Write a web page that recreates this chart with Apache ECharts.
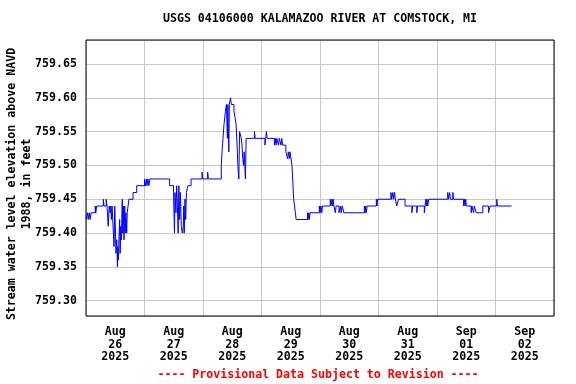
<!DOCTYPE html>
<html><head><meta charset="utf-8">
<script src="https://cdn.jsdelivr.net/npm/echarts@6/dist/echarts.min.js"></script>
<style>html,body{margin:0;padding:0;background:#fff}#c{width:576px;height:384px}</style>
</head><body><div id="c"></div>
<script>
// Hours since 2025-08-26 00:00 at which the reading changes, and the reading (ft)
const hoursFromStart = [
0,0.6,0.9,1.3,1.7,2.1,3.8,4.0,4.4,7.1,7.4,8.3,8.6,8.8,9.1,9.5,9.9,10.2,10.4,10.7,
11.5,11.8,12.1,12.3,12.6,12.9,13.1,13.3,13.5,13.8,14.0,14.3,14.5,14.8,14.9,15.1,15.3,15.6,15.9,16.1,
16.4,16.7,16.9,17.6,19.3,20.8,24.0,24.4,24.8,25.0,25.4,25.8,26.2,34.3,35.9,36.3,36.5,36.9,37.2,37.5,
37.8,38.1,38.4,38.7,39.1,39.5,39.9,40.1,40.3,40.6,40.9,41.2,41.8,43.1,47.6,47.9,49.9,50.2,55.5,55.8,
56.2,56.6,57.2,57.6,58.0,58.2,58.6,58.8,59.3,59.6,60.7,61.2,61.6,62.1,62.3,62.7,63.0,63.7,64.0,64.3,
64.6,64.9,65.4,65.7,69.1,69.4,73.4,73.7,74.0,74.3,77.3,77.6,78.0,78.3,79.0,79.3,80.0,80.3,80.7,82.0,
82.7,83.0,83.4,83.7,84.5,85.2,85.9,86.2,90.9,91.1,91.4,91.6,91.9,95.7,96.0,96.4,96.7,97.0,100.2,100.5,
100.9,101.2,101.4,101.7,102.3,102.6,103.8,104.4,104.7,105.1,105.8,114.2,114.5,114.7,115.0,115.3,119.1,119.4,119.6,125.1,
125.4,125.9,126.2,126.6,126.9,127.5,128.2,130.9,133.7,134.0,135.7,136.0,138.8,139.1,139.4,139.7,139.9,140.2,140.6,148.4,
148.7,149.2,149.5,150.5,150.8,154.9,155.2,155.5,155.8,156.0,158.0,158.3,159.0,159.3,160.1,162.8,165.1,165.8,168.5,168.8,
174.6
];
const levelFt = [
759.42,759.43,759.42,759.43,759.42,759.43,759.44,759.43,759.44,759.45,759.44,759.45,759.44,759.43,759.41,759.44,759.43,759.44,759.42,759.44,
759.38,759.44,759.40,759.37,759.39,759.35,759.38,759.36,759.39,759.42,759.37,759.41,759.39,759.44,759.45,759.40,759.44,759.39,759.44,759.40,
759.43,759.40,759.43,759.45,759.46,759.47,759.48,759.47,759.48,759.47,759.48,759.47,759.48,759.47,759.46,759.40,759.46,759.43,759.47,759.44,
759.40,759.47,759.42,759.46,759.41,759.40,759.41,759.44,759.40,759.45,759.42,759.46,759.47,759.48,759.49,759.48,759.49,759.48,759.50,759.52,
759.54,759.56,759.58,759.59,759.54,759.59,759.52,759.59,759.60,759.59,759.58,759.57,759.56,759.52,759.50,759.48,759.55,759.54,759.53,759.51,
759.50,759.52,759.48,759.54,759.55,759.54,759.53,759.54,759.55,759.54,759.53,759.54,759.53,759.54,759.53,759.54,759.53,759.54,759.53,759.52,
759.51,759.52,759.51,759.52,759.50,759.45,759.43,759.42,759.43,759.42,759.43,759.42,759.43,759.44,759.43,759.44,759.43,759.44,759.45,759.44,
759.45,759.44,759.45,759.44,759.43,759.44,759.43,759.44,759.43,759.44,759.43,759.44,759.43,759.44,759.43,759.44,759.45,759.44,759.45,759.46,
759.45,759.46,759.45,759.46,759.45,759.44,759.45,759.44,759.43,759.44,759.43,759.44,759.43,759.44,759.45,759.44,759.45,759.44,759.45,759.46,
759.45,759.46,759.45,759.46,759.45,759.44,759.45,759.44,759.45,759.44,759.43,759.44,759.43,759.44,759.43,759.44,759.43,759.44,759.45,759.44,
759.44
];
const dayMonths = ['Aug','Aug','Aug','Aug','Aug','Aug','Sep','Sep'];
const dayNumbers = ['26','27','28','29','30','31','01','02'];
const dayYears = ['2025','2025','2025','2025','2025','2025','2025','2025'];
const titleText = 'USGS 04106000 KALAMAZOO RIVER AT COMSTOCK, MI';
const yAxisTitle = 'Stream water level elevation above NAVD\n1988, in feet';
const footerText = '---- Provisional Data Subject to Revision ----';

const FONT = '"DejaVu Sans Mono", "Liberation Mono", monospace';
const FS = 11.6;
const seriesData = hoursFromStart.map((h, i) => [h, levelFt[i]]);

const chart = echarts.init(document.getElementById('c'), null, {renderer: 'canvas'});
chart.setOption({
  animation: false,
  backgroundColor: '#ffffff',
  title: [
    {text: titleText, left: 320, top: 13, textAlign: 'center', padding: 0,
     textStyle: {fontFamily: FONT, fontWeight: 'bold', fontSize: FS, color: '#000'}},
    {text: footerText, left: 318, top: 369, textAlign: 'center', padding: 0,
     textStyle: {fontFamily: FONT, fontWeight: 'bold', fontSize: FS, color: '#ff0000'}}
  ],
  grid: {left: 86, top: 40, width: 468, height: 276, show: true, borderColor: '#000', borderWidth: 1, z: 5,
         containLabel: false, outerBoundsMode: 'none'},
  xAxis: [
    {type: 'value', min: 0, max: 192, interval: 24, position: 'bottom',
     axisLine: {show: false}, axisTick: {show: false}, axisLabel: {show: false},
     splitLine: {show: true, lineStyle: {color: '#c8c8c8', width: 1}}},
    {type: 'value', min: 0, max: 192, interval: 12, position: 'bottom',
     axisLine: {show: false}, axisTick: {show: false}, splitLine: {show: false},
     axisLabel: {show: true, margin: 10, showMinLabel: true, showMaxLabel: true,
       fontFamily: FONT, fontWeight: 'bold', fontSize: FS, color: '#000', lineHeight: 12.5,
       formatter: function (v) {
         if (Math.round(v) % 24 !== 12) return '';
         const i = (Math.round(v) - 12) / 24;
         return dayMonths[i] + '\n' + dayNumbers[i] + '\n' + dayYears[i];
       }}}
  ],
  yAxis: {
    type: 'value', min: 759.2774, max: 759.6854, splitNumber: 8,
    axisLine: {show: false}, axisTick: {show: false},
    splitLine: {show: true, lineStyle: {color: '#c8c8c8', width: 1}},
    axisLabel: {margin: 9, showMinLabel: false, showMaxLabel: false,
      fontFamily: FONT, fontWeight: 'bold', fontSize: FS, color: '#000',
      formatter: function (v) {
        return Math.abs(v * 20 - Math.round(v * 20)) < 1e-6 ? v.toFixed(2) : '';
      }},
    name: yAxisTitle, nameLocation: 'middle', nameRotate: 90, nameGap: 52, nameMoveOverlap: false,
    nameTextStyle: {fontFamily: FONT, fontWeight: 'bold', fontSize: FS, color: '#000', lineHeight: 15,
      align: 'center', padding: [0, 12, 0, 0]}
  },
  series: [{
    type: 'line', xAxisIndex: 0, data: seriesData, step: 'end', showSymbol: false, symbol: 'none',
    lineStyle: {color: '#0000ff', width: 1}, z: 3
  }]
});
</script>
</body></html>
